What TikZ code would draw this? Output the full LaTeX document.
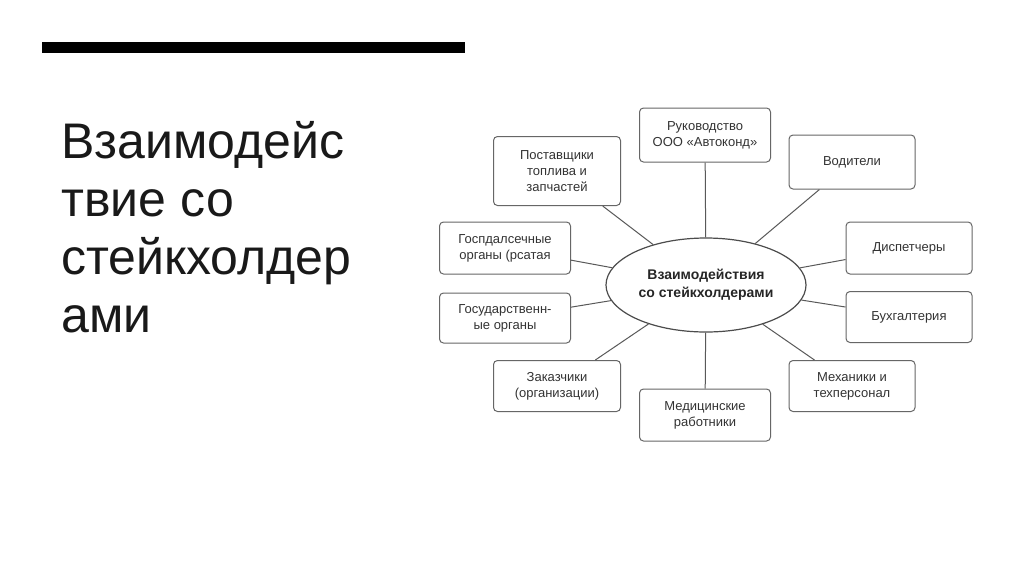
\documentclass[tikz,border=0pt]{standalone}
\usepackage{fontspec}
\setmainfont{Liberation Sans}
\usetikzlibrary{shapes.geometric}
\begin{document}
\begin{tikzpicture}[x=1pt,y=-1pt,
  box/.style={draw=black!60,line width=1pt,rounded corners=4pt,fill=white,align=center,font=\fontsize{13}{16}\selectfont,text=black!80,inner sep=0pt},
  link/.style={draw=black!65,line width=1pt}]
\useasboundingbox[fill=white] (0,0) rectangle (1024,574);
\fill[black] (42,42) rectangle (465,53);
\node[anchor=north west,align=left,font=\fontsize{50}{58}\selectfont,text=black!90] (title) at (58,118) {Взаимодейс\\твие со\\стейкхолдер\\ами};
\node[ellipse,draw=black!70,line width=1.2pt,minimum width=200pt,minimum height=94pt,inner sep=0pt,align=center,font=\bfseries\fontsize{14}{18}\selectfont,text=black!85] (e) at (706,285) {Взаимодействия\\со стейкхолдерами};
\node[box,minimum width=131pt,minimum height=54pt] (b1) at (705,135) {Руководство\\ООО «Автоконд»};
\node[box,minimum width=127pt,minimum height=69pt] (b2) at (557,171) {Поставщики\\топлива и\\запчастей};
\node[box,minimum width=126pt,minimum height=54pt] (b3) at (852,162) {Водители};
\node[box,minimum width=131pt,minimum height=52pt] (b4) at (505,248) {Госпдалсечные\\органы (рсатая};
\node[box,minimum width=126pt,minimum height=52pt] (b5) at (909,248) {Диспетчеры};
\node[box,minimum width=131pt,minimum height=50pt] (b6) at (505,318) {Государственн-\\ые органы};
\node[box,minimum width=126pt,minimum height=51pt] (b7) at (909,317) {Бухгалтерия};
\node[box,minimum width=127pt,minimum height=51pt] (b8) at (557,386) {Заказчики\\(организации)};
\node[box,minimum width=131pt,minimum height=52pt] (b9) at (705,415) {Медицинские\\работники};
\node[box,minimum width=126pt,minimum height=51pt] (b10) at (852,386) {Механики и\\техперсонал};
\foreach \b in {b1,b2,b3,b4,b5,b6,b7,b8,b9,b10} \draw[link] (e) -- (\b);
\end{tikzpicture}
\end{document}
